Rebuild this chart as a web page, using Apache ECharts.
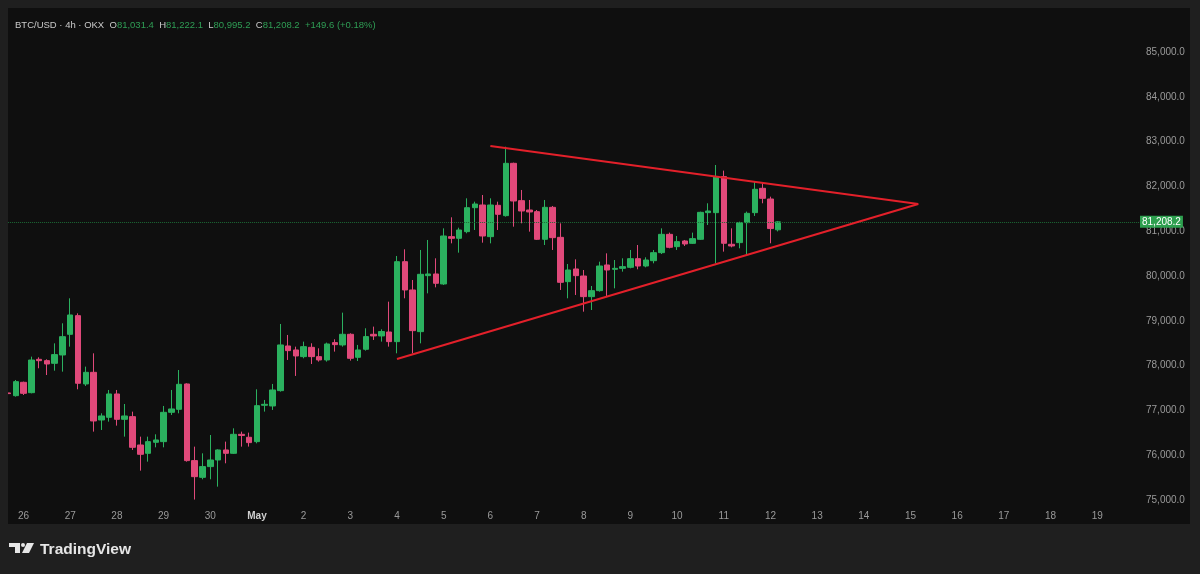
<!DOCTYPE html>
<html>
<head>
<meta charset="utf-8">
<script src="https://cdn.jsdelivr.net/npm/echarts@6/dist/echarts.min.js"></script>
<style>
html,body{margin:0;padding:0;background:#1f1f1f;}
#chart{width:1200px;height:574px;}
</style>
</head>
<body>
<div id="chart"></div>
<script>
// ---- Data (4h candles, first = Apr 25 16:00) ----
const dayLabels = ['25','26','27','28','29','30','May','2','3','4','5','6','7','8','9','10','11','12','13','14','15','16','17','18','19','20'];
const hourLabels = ['00:00','04:00','08:00','12:00','16:00','20:00'];
const slotCount = 146;
const firstHourIndex = 4; // 16:00

// [open, close, low, high]
const candles = [
  [77390,77375,77160,77456],[77329,77642,77307,77679],[77627,77381,77344,77642],[77396,78125,77381,78200],
  [78140,78110,77940,78185],[78111,78036,77790,78140],[78051,78245,77887,78497],[78237,78646,77865,78944],
  [78698,79130,78423,79502],[79115,77605,77471,79167],[77590,77850,77545,77977],[77850,76764,76526,78274],
  [76786,76876,76563,76935],[76846,77367,76749,77456],[77367,76801,76660,77456],[76801,76876,76414,77143],
  [76861,76176,76117,76972],[76228,76020,75655,76414],[76042,76303,75856,76414],[76288,76340,76176,76466],
  [76303,76957,76176,77099],[76957,77032,76898,77456],[77024,77582,76935,77902],[77590,75879,75856,77605],
  [75879,75521,75010,76191],[75506,75745,75462,76042],[75745,75893,75462,76451],[75893,76117,75298,76132],
  [76117,76042,75819,76303],[76042,76466,76027,76600],[76466,76440,76191,76526],[76400,76281,76192,76504],
  [76303,77106,76265,77471],[77114,77136,76973,77233],[77099,77456,77010,77590],[77441,78461,77419,78929],
  [78438,78334,78126,78684],[78349,78215,77769,78423],[78200,78423,78163,78535],[78408,78200,78036,78498],
  [78200,78126,78089,78386],[78126,78483,78089,78513],[78513,78468,78312,78587],[78461,78699,78423,79182],
  [78699,78163,78111,78721],[78185,78349,78103,78461],[78364,78647,78334,78833],[78699,78662,78572,78870],
  [78662,78760,78535,78810],[78750,78535,78423,79427],[78535,80320,78274,80447],[80320,79688,79502,80596],
  [79688,78780,78274,79911],[78758,80038,78497,80581],[80008,80045,79613,80804],[80045,79837,79747,80395],
  [79822,80893,79800,81064],[80878,80841,80729,81310],[80841,81027,80521,81079],[80990,81525,80953,81734],
  [81525,81607,81027,81659],[81585,80893,80744,81808],[80878,81585,80729,81734],[81578,81377,81027,81659],
  [81347,82515,81325,82887],[82515,81674,81101,82530],[81682,81451,81176,81920],[81473,81429,80990,81697],
  [81436,80819,80804,81473],[80819,81533,80692,81697],[81533,80856,80581,81563],[80863,79859,79688,81176],
  [79874,80134,79502,80268],[80157,80008,79576,80372],[80000,79539,79204,80134],[79539,79673,79241,79777],
  [79673,80223,79651,80320],[80246,80134,79539,80506],[80149,80171,79725,80357],[80171,80209,80097,80395],
  [80194,80387,80171,80581],[80387,80223,80149,80692],[80223,80357,80194,80417],[80342,80521,80283,80581],
  [80521,80930,80491,81064],[80930,80640,80618,80968],[80655,80767,80581,80893],[80782,80715,80670,80804],
  [80729,80834,80715,80968],[80819,81421,80804,81436],[81414,81451,81139,81623],[81414,82218,80283,82478],
  [82218,80730,80544,82352],[80708,80670,80640,81064],[80745,81191,80618,81213],[81191,81399,80469,81437],
  [81414,81935,81340,82106],[81957,81734,81623,82069],[81719,81058.6,80730,81771],[81031.4,81208.2,80995.2,81222.1]
];
const changeAbs = 149.6;
const changePct = 0.18;

// Trendlines: [slotIndex, price]
const upperLine = [[62, 82900], [117, 81607]];
const lowerLine = [[50, 78148], [117, 81607]];

const yTicks = {min: 75000, max: 86000, step: 1000};

// ---- Build categories ----
const categories = [];
for (let i = 0; i < slotCount; i++) {
  const h = firstHourIndex + i;
  const d = Math.floor(h / 6);
  categories.push(dayLabels[d] + ' ' + hourLabels[h % 6]);
}

const fmt1 = v => Number(v).toLocaleString('en-US', {minimumFractionDigits: 1, maximumFractionDigits: 1});
const last = candles[candles.length - 1];

const upColor = '#2bb15f';
const downColor = '#e0497a';
const font = 'Liberation Sans, Arial, sans-serif';

const chart = echarts.init(document.getElementById('chart'), null, {renderer: 'canvas'});
const frame = '#1f1f1f';

chart.setOption({
  backgroundColor: '#0f0f0f',
  animation: false,
  title: {
    left: 10, top: 15,
    text: '{n|BTC/USD · 4h · OKX}  {k|O}{v|' + fmt1(last[0]) + '}  {k|H}{v|' + fmt1(last[3]) + '}  {k|L}{v|' + fmt1(last[2]) + '}  {k|C}{v|' + fmt1(last[1]) + '}  {v|+' + fmt1(changeAbs) + ' (+' + changePct.toFixed(2) + '%)}',
    textStyle: {
      fontFamily: font, fontSize: 9.5, fontWeight: 'normal',
      rich: {
        n: {color: '#c9c9c9', fontFamily: font, fontSize: 9.5},
        k: {color: '#c9c9c9', fontFamily: font, fontSize: 9.5},
        v: {color: '#2f9e55', fontFamily: font, fontSize: 9.5}
      }
    }
  },
  grid: {left: 4.11, right: 60, top: 7.2, bottom: 74},
  xAxis: {
    type: 'category',
    data: categories,
    boundaryGap: true,
    axisLine: {show: false},
    axisTick: {show: false},
    splitLine: {show: false},
    axisLabel: {
      interval: (i, v) => v.endsWith(' 00:00'),
      formatter: v => {
        const d = v.split(' ')[0];
        return d === 'May' ? '{b|May}' : d;
      },
      color: '#9a9a9a', fontSize: 10, fontFamily: font, margin: 11,
      rich: {b: {fontWeight: 'bold', color: '#cfcfcf', fontSize: 10, fontFamily: font}}
    }
  },
  yAxis: {
    type: 'value',
    position: 'right',
    min: yTicks.min, max: yTicks.max, interval: yTicks.step,
    axisLine: {show: false},
    axisTick: {show: false},
    splitLine: {show: false},
    axisLabel: {
      showMaxLabel: false,
      formatter: v => fmt1(v),
      color: '#9a9a9a', fontSize: 10, fontFamily: font, margin: 6
    }
  },
  series: [{
    type: 'candlestick',
    data: candles.map(c => [c[0], c[1], c[2], c[3]]),
    barWidth: 6,
    itemStyle: {
      color: upColor, color0: downColor,
      borderColor: upColor, borderColor0: downColor, borderWidth: 1
    },
    markLine: {
      silent: true,
      symbol: ['none', 'none'],
      data: [
        {
          yAxis: last[1],
          lineStyle: {color: '#1d6a36', type: 'dotted', width: 1},
          label: {
            show: true, position: 'end', distance: 0,
            formatter: () => fmt1(last[1]),
            backgroundColor: '#2ea04f', color: '#ffffff',
            fontSize: 10, fontFamily: font, padding: [1, 2, 0, 2], lineHeight: 11
          }
        },
        [
          {coord: [categories[upperLine[0][0]], upperLine[0][1]], lineStyle: {color: '#e3202a', width: 2, type: 'solid'}, label: {show: false}},
          {coord: [categories[upperLine[1][0]], upperLine[1][1]]}
        ],
        [
          {coord: [categories[lowerLine[0][0]], lowerLine[0][1]], lineStyle: {color: '#e3202a', width: 2, type: 'solid'}, label: {show: false}},
          {coord: [categories[lowerLine[1][0]], lowerLine[1][1]]}
        ]
      ]
    }
  }],
  graphic: [
    {type: 'rect', shape: {x: 0, y: 0, width: 8, height: 574}, style: {fill: frame}, z: 100, silent: true},
    {type: 'rect', shape: {x: 0, y: 0, width: 1200, height: 8}, style: {fill: frame}, z: 100, silent: true},
    {type: 'rect', shape: {x: 1190, y: 0, width: 10, height: 574}, style: {fill: frame}, z: 100, silent: true},
    {type: 'rect', shape: {x: 0, y: 524, width: 1200, height: 50}, style: {fill: frame}, z: 100, silent: true},
    // TradingView logo
    {type: 'rect', shape: {x: 9, y: 543, width: 11, height: 4}, style: {fill: '#e6e6e6'}, z: 101},
    {type: 'rect', shape: {x: 15, y: 543, width: 5, height: 10}, style: {fill: '#e6e6e6'}, z: 101},
    {type: 'circle', shape: {cx: 23, cy: 545, r: 2}, style: {fill: '#e6e6e6'}, z: 101},
    {type: 'polygon', shape: {points: [[27, 543], [34, 543], [29, 553], [22, 553]]}, style: {fill: '#e6e6e6'}, z: 101},
    {type: 'text', x: 40, y: 550, style: {text: 'TradingView', fill: '#e6e6e6', font: 'bold 15.5px ' + font, textVerticalAlign: 'middle'}, z: 101}
  ]
});
</script>
</body>
</html>
